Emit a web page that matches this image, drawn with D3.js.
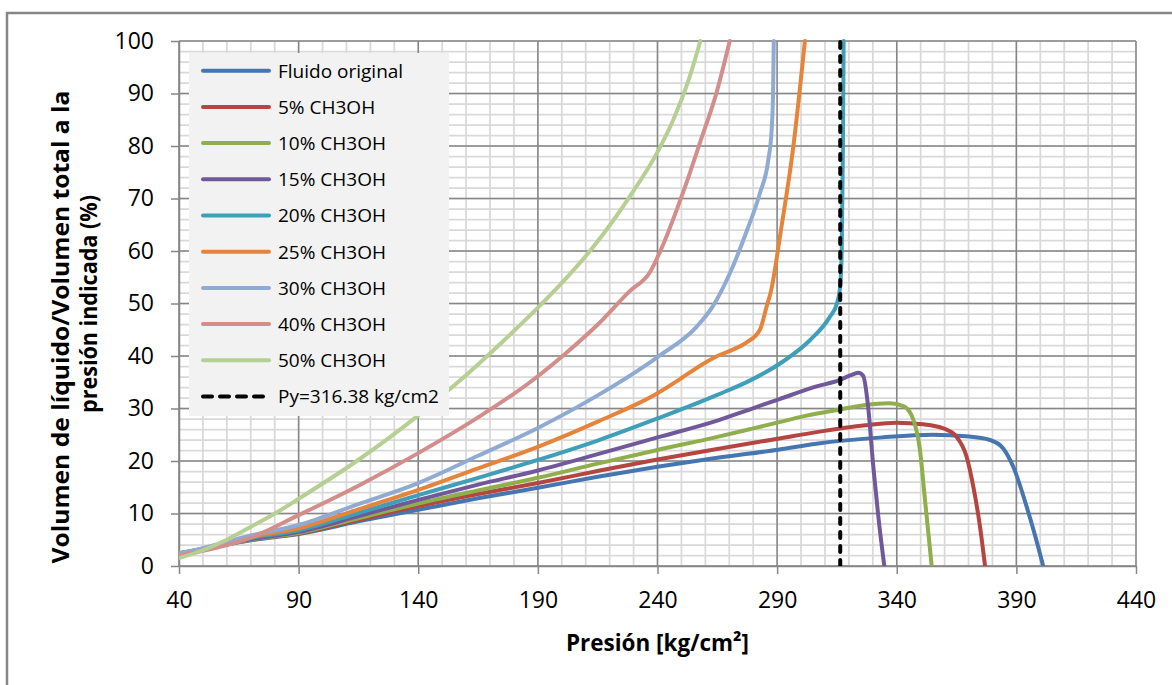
<!DOCTYPE html>
<html>
<head>
<meta charset="utf-8">
<script src="https://cdn.jsdelivr.net/npm/d3@7"></script>
<style>
  body { margin: 0; background: #fff; }
  text { font-family: "Open Sans", "Noto Sans", sans-serif; fill: #000; }
</style>
</head>
<body>
<div class="chart"></div>
<script>
// chart size
var svgWidth = 1172;
var svgHeight = 685;

// plot area edges
var plot = { left: 179, right: 1136, top: 41, bottom: 566 };

// ticks
var xMajor = [40, 90, 140, 190, 240, 290, 340, 390, 440];
var yMajor = [0, 10, 20, 30, 40, 50, 60, 70, 80, 90, 100];
var xMinor = d3.range(40, 441, 10);
var yMinor = d3.range(0, 101, 2);

// series names (legend order)
var seriesNames = ["Fluido original", "5% CH3OH", "10% CH3OH", "15% CH3OH", "20% CH3OH",
  "25% CH3OH", "30% CH3OH", "40% CH3OH", "50% CH3OH"];
var seriesColors = ["#4676b0", "#b44541", "#8fae4c", "#71589a", "#3f9fb9",
  "#e5843a", "#8fabd3", "#d38e8c", "#b6cf92"];

// [presion, volumen %]
var fluidoOriginal = [[40,2.4],[50,3.2],[60,4.1],[70,4.9],[90,6.1],[115,8.5],[140,10.7],[165,12.9],
  [190,14.9],[215,17],[240,18.9],[265,20.6],[291,22.2],[306.5,23.3],[334,24.5],[355,25],
  [369,24.7],[379,24],[384.5,22.4],[388.7,18.9],[394.3,11.3],[398,5.5],[401.2,0]];
var metanol5 = [[40,2.4],[50,3.2],[60,4.1],[70,5],[90,6.2],[115,8.8],[140,11.4],[165,13.7],
  [190,15.8],[215,18.1],[240,20.3],[265,22.3],[291,24.3],[306.5,25.5],[327,26.8],[340,27.3],
  [351,27],[359.5,26.2],[365,24.6],[369.2,20.8],[372,15.1],[374.8,7.5],[376.9,0]];
var metanol10 = [[40,2.3],[50,3.2],[60,4.1],[70,5],[90,6.3],[115,9.1],[140,11.9],[165,14.4],
  [190,16.8],[215,19.5],[240,22.1],[265,24.6],[279,26.1],[291,27.4],[300,28.4],[315,29.7],
  [323,30.4],[337,31],[343,30.4],[347,27.8],[349.7,22.1],[351.8,12.6],[354.6,0]];
var metanol15 = [[40,2.4],[50,3.2],[60,4.2],[70,5.1],[90,6.5],[115,9.5],[140,12.6],[165,15.5],
  [190,18.2],[215,21.3],[240,24.5],[265,27.7],[279,29.9],[291,31.8],[306.5,34.2],[316,35.4],
  [320.5,36.3],[324,36.8],[326,36.2],[328,30.5],[330.2,18.9],[332.3,9.4],[334.8,0]];
var metanol20 = [[40,2.4],[50,3.3],[60,4.3],[70,5.3],[90,6.8],[115,10.1],[140,13.5],[165,16.8],
  [190,20.2],[215,23.9],[240,28.1],[265,32.6],[279,35.4],[292.6,39],[303.7,43],[312.1,47.5],
  [315,50],[316.3,53],[317,60],[317.5,80],[317.8,100]];
var metanol25 = [[40,2.4],[50,3.3],[60,4.4],[70,5.5],[90,7.2],[115,10.8],[140,14.5],[165,18.6],
  [190,22.7],[215,27.5],[240,32.9],[249.4,35.6],[258,38.2],[265,40],[272,41.3],[277.3,42.6],
  [282.8,45],[285.6,49.4],[287.5,52.5],[291.5,63.7],[296.8,80],[301.6,100]];
var metanol30 = [[40,2.4],[50,3.4],[60,4.6],[70,5.8],[90,7.8],[115,11.8],[140,15.8],[165,21],
  [190,26.3],[215,32.5],[240,39.8],[256.4,45.6],[263.3,49.6],[270.3,55.8],[277.3,63.8],
  [282.8,71],[286.3,77.3],[287.7,83],[288.3,90],[288.6,100]];
var metanol40 = [[40,2],[50,2.9],[60,4],[71,5.6],[90,9.7],[115,15.3],[140,21.5],[165,28.3],
  [186.7,35],[200.6,40.1],[214.6,45.8],[228.5,52.4],[236.9,56],[241,59.8],
  [250.8,71.3],[257.8,80.7],[264.7,90.2],[270.2,100]];
var metanol50 = [[40,1.5],[50,3],[60,5],[71,7.7],[80.8,10.2],[90,12.8],[114.3,20],[140,28.7],
  [153,33.6],[165,38.4],[178,43.9],[190,49.2],[200.6,54.2],[214.6,61.6],[229.9,71.4],[239.7,78.6],
  [246.6,85],[253.6,93.4],[257.9,100]];
var seriesData = [fluidoOriginal, metanol5, metanol10, metanol15, metanol20,
  metanol25, metanol30, metanol40, metanol50];

// saturation pressure line
var pyLabel = "Py=316.38 kg/cm2";
var pyValue = 316.38;

var svg = d3.select(".chart")
  .append("svg")
    .attr("width", svgWidth)
    .attr("height", svgHeight);

// outer chart frame (right/bottom edges fall outside the picture)
svg.append("rect")
  .attr("x", 7).attr("y", 13)
  .attr("width", 1300).attr("height", 800)
  .attr("fill", "none")
  .attr("stroke", "#868686")
  .attr("stroke-width", 2.5);

// scales
var xScale = d3.scaleLinear().domain([40, 440]).range([plot.left, plot.right]);
var yScale = d3.scaleLinear().domain([0, 100]).range([plot.bottom, plot.top]);

// minor gridlines
var grid = svg.append("g");
grid.selectAll(".xminor").data(xMinor).enter().append("line")
  .attr("x1", function(d) { return xScale(d); })
  .attr("x2", function(d) { return xScale(d); })
  .attr("y1", plot.top).attr("y2", plot.bottom)
  .attr("stroke", "#d9d9d9").attr("stroke-width", 1.75);
grid.selectAll(".yminor").data(yMinor).enter().append("line")
  .attr("x1", plot.left).attr("x2", plot.right)
  .attr("y1", function(d) { return yScale(d); })
  .attr("y2", function(d) { return yScale(d); })
  .attr("stroke", "#d9d9d9").attr("stroke-width", 1.75);

// major gridlines
grid.selectAll(".xmajor").data(xMajor).enter().append("line")
  .attr("x1", function(d) { return xScale(d); })
  .attr("x2", function(d) { return xScale(d); })
  .attr("y1", plot.top).attr("y2", plot.bottom)
  .attr("stroke", "#868686").attr("stroke-width", 1.5);
grid.selectAll(".ymajor").data(yMajor).enter().append("line")
  .attr("x1", plot.left).attr("x2", plot.right)
  .attr("y1", function(d) { return yScale(d); })
  .attr("y2", function(d) { return yScale(d); })
  .attr("stroke", "#868686").attr("stroke-width", 1.5);

// axes
var bottomAxis = d3.axisBottom(xScale).tickValues(xMajor).tickSize(8).tickSizeOuter(0).tickPadding(18);
var leftAxis = d3.axisLeft(yScale).tickValues(yMajor).tickSize(8).tickSizeOuter(0).tickPadding(17);

var xAxisG = svg.append("g")
  .attr("transform", "translate(0," + plot.bottom + ")")
  .call(bottomAxis);
var yAxisG = svg.append("g")
  .attr("transform", "translate(" + plot.left + ",0)")
  .call(leftAxis);

[xAxisG, yAxisG].forEach(function(g) {
  g.select(".domain").attr("stroke", "#868686").attr("stroke-width", 1.5);
  g.selectAll(".tick line").attr("stroke", "#868686").attr("stroke-width", 1.5);
  g.selectAll(".tick text")
    .attr("font-family", "Open Sans")
    .attr("font-size", 23)
    .attr("fill", "#000");
});

// clip for the curves
svg.append("clipPath").attr("id", "plotClip")
  .append("rect")
    .attr("x", plot.left).attr("y", plot.top - 2)
    .attr("width", plot.right - plot.left).attr("height", plot.bottom - plot.top + 2);

var line = d3.line()
  .x(function(d) { return xScale(d[0]); })
  .y(function(d) { return yScale(d[1]); })
  .curve(d3.curveMonotoneX);

var curves = svg.append("g").attr("clip-path", "url(#plotClip)");
curves.selectAll(".serie")
  .data(seriesData)
  .enter()
  .append("path")
    .attr("d", line)
    .attr("fill", "none")
    .attr("stroke", function(d, i) { return seriesColors[i]; })
    .attr("stroke-width", 4)
    .attr("stroke-linejoin", "round")
    .attr("stroke-linecap", "round");

// Py dashed line
curves.append("line")
  .attr("x1", xScale(pyValue)).attr("x2", xScale(pyValue))
  .attr("y1", yScale(0)).attr("y2", yScale(100))
  .attr("stroke", "#000")
  .attr("stroke-width", 4)
  .attr("stroke-dasharray", "6,8")
  .attr("stroke-linecap", "round");

// legend
var legend = svg.append("g");
legend.append("rect")
  .attr("x", 189).attr("y", 53)
  .attr("width", 260).attr("height", 363)
  .attr("fill", "#f2f2f2");

var legendItems = seriesNames.concat([pyLabel]);
var rowY = function(i) { return 70.7 + i * 36.2; };

legend.selectAll(".lline")
  .data(legendItems)
  .enter()
  .append("line")
    .attr("x1", 203).attr("x2", 269)
    .attr("y1", function(d, i) { return rowY(i); })
    .attr("y2", function(d, i) { return rowY(i); })
    .attr("stroke", function(d, i) { return i < seriesColors.length ? seriesColors[i] : "#000"; })
    .attr("stroke-width", 4)
    .attr("stroke-linecap", "round")
    .attr("stroke-dasharray", function(d, i) { return i < seriesColors.length ? null : "9,8"; });

legend.selectAll(".ltext")
  .data(legendItems)
  .enter()
  .append("text")
    .attr("x", 278)
    .attr("y", function(d, i) { return rowY(i); })
    .attr("dy", "0.36em")
    .attr("font-size", 19)
    .text(function(d) { return d; });

// x-axis title
svg.append("text")
  .attr("x", (plot.left + plot.right) / 2)
  .attr("y", 651)
  .attr("text-anchor", "middle")
  .attr("font-size", 23)
  .attr("font-weight", "bold")
  .attr("textLength", 183)
  .attr("lengthAdjust", "spacingAndGlyphs")
  .text("Presión [kg/cm²]");

// y-axis title, two lines
svg.append("text")
  .attr("transform", "translate(69,327) rotate(-90)")
  .attr("text-anchor", "middle")
  .attr("font-size", 23)
  .attr("font-weight", "bold")
  .attr("textLength", 473)
  .attr("lengthAdjust", "spacingAndGlyphs")
  .text("Volumen de líquido/Volumen total a la");
svg.append("text")
  .attr("transform", "translate(97,304) rotate(-90)")
  .attr("text-anchor", "middle")
  .attr("font-size", 23)
  .attr("font-weight", "bold")
  .attr("textLength", 218)
  .attr("lengthAdjust", "spacingAndGlyphs")
  .text("presión indicada (%)");
</script>
</body>
</html>
